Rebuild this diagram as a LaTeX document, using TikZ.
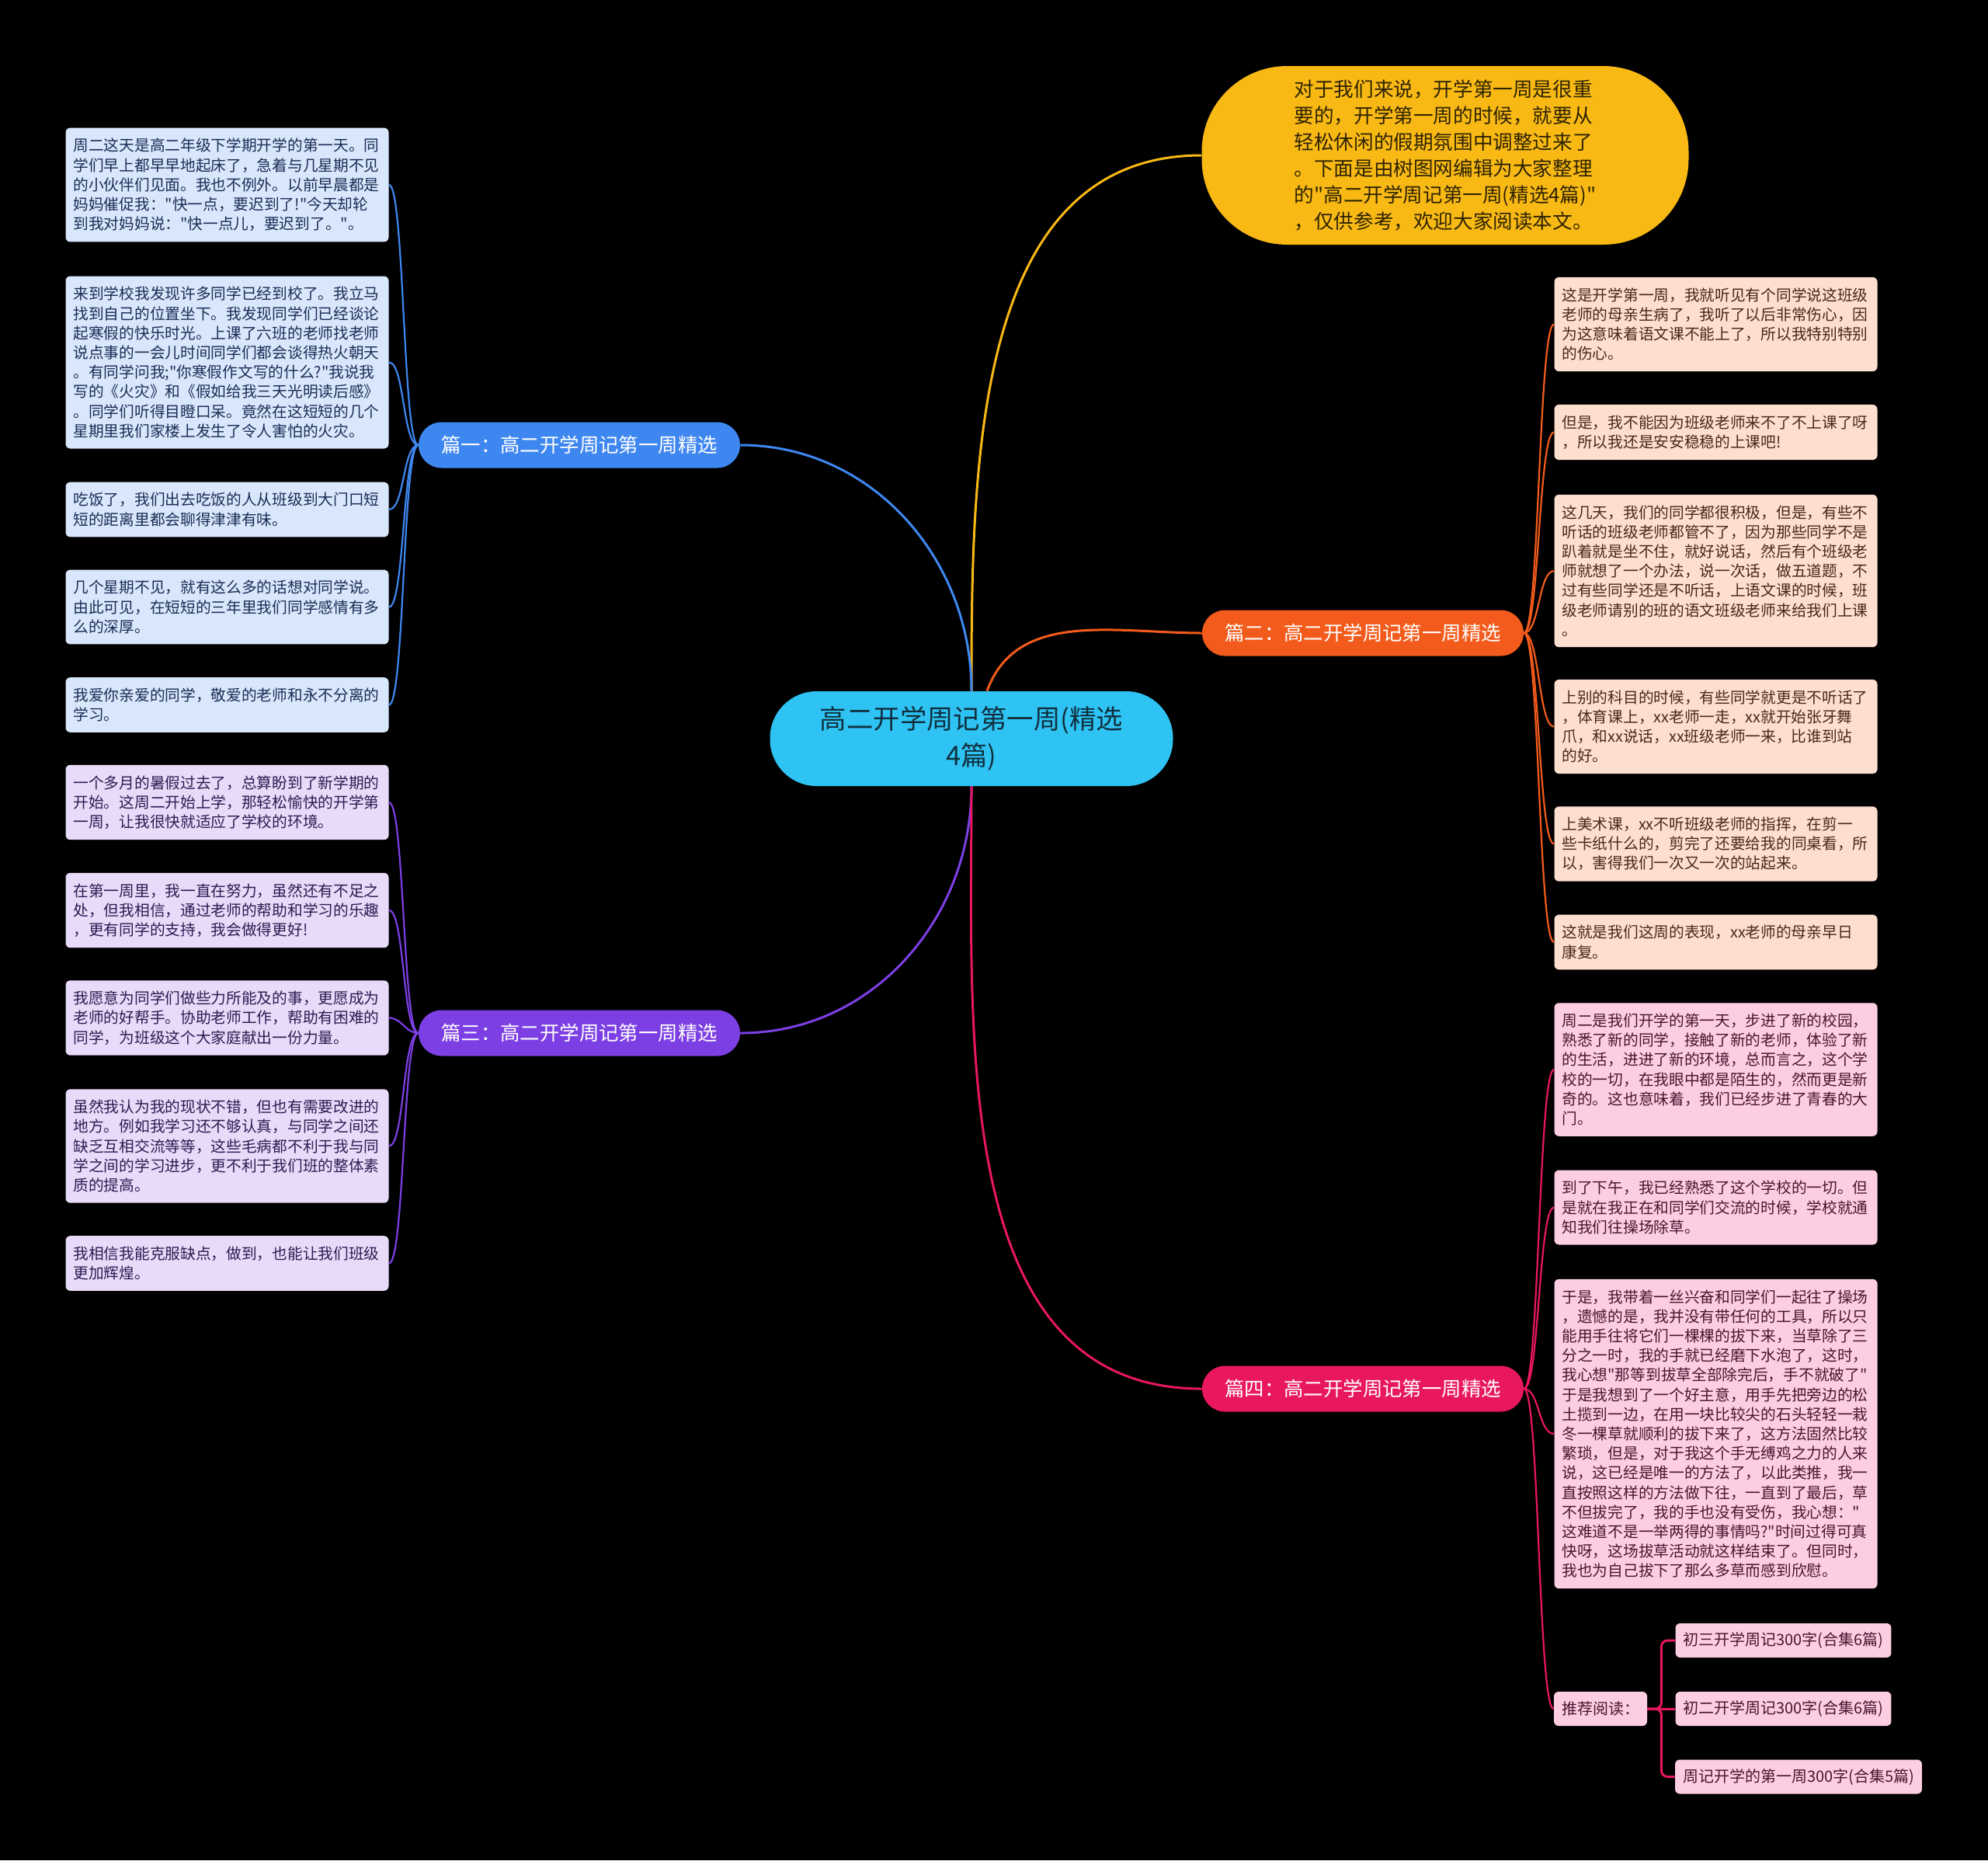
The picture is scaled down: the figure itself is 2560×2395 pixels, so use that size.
\documentclass[tikz,border=0pt]{standalone}
\usepackage{fontspec}
\setmainfont{Noto Sans CJK SC}[Ligatures=TeXOff]

\definecolor{cMain}{HTML}{2EC3F3}
\definecolor{cMainTxt}{HTML}{10303F}
\definecolor{cYellow}{HTML}{F8B915}
\definecolor{cYellowTxt}{HTML}{2E2300}
\definecolor{cBlue}{HTML}{3F87F0}
\definecolor{cPurple}{HTML}{7C3FE3}
\definecolor{cOrange}{HTML}{F25B1B}
\definecolor{cPink}{HTML}{E8175F}
\definecolor{cLeafBlue}{HTML}{D8E7FB}
\definecolor{cLeafPurple}{HTML}{E7DBF9}
\definecolor{cLeafOrange}{HTML}{FDDFCF}
\definecolor{cLeafPink}{HTML}{FDCDE1}
\definecolor{cTxtBlue}{HTML}{1C2C55}
\definecolor{cTxtPurple}{HTML}{301A52}
\definecolor{cTxtOrange}{HTML}{4A2818}
\definecolor{cTxtPink}{HTML}{4A1530}

\tikzset{
  leaf/.style={rounded corners=3pt, text width=198pt, inner xsep=5pt,
    inner ysep=6.8pt, align=left, font=\fontsize{9.85}{12.6}\selectfont},
  leafblue/.style={leaf, fill=cLeafBlue, text=cTxtBlue},
  leafpurple/.style={leaf, fill=cLeafPurple, text=cTxtPurple},
  leaforange/.style={leaf, fill=cLeafOrange, text=cTxtOrange},
  leafpink/.style={leaf, fill=cLeafPink, text=cTxtPink},
  small/.style={rounded corners=3pt, inner xsep=5pt, minimum height=22pt,
    fill=cLeafPink, text=cTxtPink, font=\fontsize{10}{12}\selectfont},
  branch/.style={rounded corners=14.75pt, minimum width=207pt,
    minimum height=29.5pt, text=white, font=\fontsize{12.7}{14}\selectfont},
  trunk/.style={line width=1.5pt},
  twig/.style={line width=1.1pt},
  bendL/.style={out=180, in=0, max distance=10pt},
  bendR/.style={out=0, in=180, max distance=10pt},
}

\begin{document}
\begin{tikzpicture}[x=0.5pt,y=-0.5pt]
  % \draw[help lines] (0,0) grid[step=100] (2560,2395);
  \fill[black] (0,0) rectangle (2560,2395);

  \node[fill=cMain, rounded corners=30pt, minimum width=259.5pt,
    minimum height=61pt, align=center, text=cMainTxt,
    font=\fontsize{17.2}{23.5}\selectfont] (main) at (1251,951)
    {高二开学周记第一周(精选\\4篇)};

  \node[fill=cYellow, rounded corners=55pt, minimum width=313.5pt,
    minimum height=115pt, align=left, text=cYellowTxt,
    font=\fontsize{12.8}{17}\selectfont] (intro) at (1861,200)
    {对于我们来说，开学第一周是很重\\
     要的，开学第一周的时候，就要从\\
     轻松休闲的假期氛围中调整过来了\\
     。下面是由树图网编辑为大家整理\\
     的"高二开学周记第一周(精选4篇)"\\
     ，仅供参考，欢迎大家阅读本文。};

  \node[branch, fill=cBlue] (p1) at (746,573) {篇一：高二开学周记第一周精选};
  \node[branch, fill=cOrange] (p2) at (1755,815) {篇二：高二开学周记第一周精选};
  \node[branch, fill=cPurple] (p3) at (746,1330) {篇三：高二开学周记第一周精选};
  \node[branch, fill=cPink] (p4) at (1755,1788) {篇四：高二开学周记第一周精选};

  % left, blue
  \node[leafblue] (a1) at (292.5,238)
    {周二这天是高二年级下学期开学的第一天。同\\
     学们早上都早早地起床了，急着与几星期不见\\
     的小伙伴们见面。我也不例外。以前早晨都是\\
     妈妈催促我："快一点，要迟到了!"今天却轮\\
     到我对妈妈说："快一点儿，要迟到了。"。};
  \node[leafblue] (a2) at (292.5,466.5)
    {来到学校我发现许多同学已经到校了。我立马\\
     找到自己的位置坐下。我发现同学们已经谈论\\
     起寒假的快乐时光。上课了六班的老师找老师\\
     说点事的一会儿时间同学们都会谈得热火朝天\\
     。有同学问我;"你寒假作文写的什么?"我说我\\
     写的《火灾》和《假如给我三天光明读后感》\\
     。同学们听得目瞪口呆。竟然在这短短的几个\\
     星期里我们家楼上发生了令人害怕的火灾。};
  \node[leafblue] (a3) at (292.5,656)
    {吃饭了，我们出去吃饭的人从班级到大门口短\\
     短的距离里都会聊得津津有味。};
  \node[leafblue] (a4) at (292.5,781.5)
    {几个星期不见，就有这么多的话想对同学说。\\
     由此可见，在短短的三年里我们同学感情有多\\
     么的深厚。};
  \node[leafblue] (a5) at (292.5,907.5)
    {我爱你亲爱的同学，敬爱的老师和永不分离的\\
     学习。};

  % left, purple
  \node[leafpurple] (c1) at (292.5,1033)
    {一个多月的暑假过去了，总算盼到了新学期的\\
     开始。这周二开始上学，那轻松愉快的开学第\\
     一周，让我很快就适应了学校的环境。};
  \node[leafpurple] (c2) at (292.5,1172)
    {在第一周里，我一直在努力，虽然还有不足之\\
     处，但我相信，通过老师的帮助和学习的乐趣\\
     ，更有同学的支持，我会做得更好!};
  \node[leafpurple] (c3) at (292.5,1310.5)
    {我愿意为同学们做些力所能及的事，更愿成为\\
     老师的好帮手。协助老师工作，帮助有困难的\\
     同学，为班级这个大家庭献出一份力量。};
  \node[leafpurple] (c4) at (292.5,1475.5)
    {虽然我认为我的现状不错，但也有需要改进的\\
     地方。例如我学习还不够认真，与同学之间还\\
     缺乏互相交流等等，这些毛病都不利于我与同\\
     学之间的学习进步，更不利于我们班的整体素\\
     质的提高。};
  \node[leafpurple] (c5) at (292.5,1626.5)
    {我相信我能克服缺点，做到，也能让我们班级\\
     更加辉煌。};

  % right, orange
  \node[leaforange] (b1) at (2209.5,417.5)
    {这是开学第一周，我就听见有个同学说这班级\\
     老师的母亲生病了，我听了以后非常伤心，因\\
     为这意味着语文课不能上了，所以我特别特别\\
     的伤心。};
  \node[leaforange] (b2) at (2209.5,556.5)
    {但是，我不能因为班级老师来不了不上课了呀\\
     ，所以我还是安安稳稳的上课吧!};
  \node[leaforange] (b3) at (2209.5,735)
    {这几天，我们的同学都很积极，但是，有些不\\
     听话的班级老师都管不了，因为那些同学不是\\
     趴着就是坐不住，就好说话，然后有个班级老\\
     师就想了一个办法，说一次话，做五道题，不\\
     过有些同学还是不听话，上语文课的时候，班\\
     级老师请别的班的语文班级老师来给我们上课\\
     。};
  \node[leaforange] (b4) at (2209.5,935.5)
    {上别的科目的时候，有些同学就更是不听话了\\
     ，体育课上，xx老师一走，xx就开始张牙舞\\
     爪，和xx说话，xx班级老师一来，比谁到站\\
     的好。};
  \node[leaforange] (b5) at (2209.5,1086.5)
    {上美术课，xx不听班级老师的指挥，在剪一\\
     些卡纸什么的，剪完了还要给我的同桌看，所\\
     以，害得我们一次又一次的站起来。};
  \node[leaforange] (b6) at (2209.5,1213)
    {这就是我们这周的表现，xx老师的母亲早日\\
     康复。};

  % right, pink
  \node[leafpink] (d1) at (2209.5,1377)
    {周二是我们开学的第一天，步进了新的校园，\\
     熟悉了新的同学，接触了新的老师，体验了新\\
     的生活，进进了新的环境，总而言之，这个学\\
     校的一切，在我眼中都是陌生的，然而更是新\\
     奇的。这也意味着，我们已经步进了青春的大\\
     门。};
  \node[leafpink] (d2) at (2209.5,1554.5)
    {到了下午，我已经熟悉了这个学校的一切。但\\
     是就在我正在和同学们交流的时候，学校就通\\
     知我们往操场除草。};
  \node[leafpink] (d3) at (2209.5,1846)
    {于是，我带着一丝兴奋和同学们一起往了操场\\
     ，遗憾的是，我并没有带任何的工具，所以只\\
     能用手往将它们一棵棵的拔下来，当草除了三\\
     分之一时，我的手就已经磨下水泡了，这时，\\
     我心想"那等到拔草全部除完后，手不就破了"\\
     于是我想到了一个好主意，用手先把旁边的松\\
     土揽到一边，在用一块比较尖的石头轻轻一栽\\
     冬一棵草就顺利的拔下来了，这方法固然比较\\
     繁琐，但是，对于我这个手无缚鸡之力的人来\\
     说，这已经是唯一的方法了，以此类推，我一\\
     直按照这样的方法做下往，一直到了最后，草\\
     不但拔完了，我的手也没有受伤，我心想："\\
     这难道不是一举两得的事情吗?"时间过得可真\\
     快呀，这场拔草活动就这样结束了。但同时，\\
     我也为自己拔下了那么多草而感到欣慰。};
  \node[small, minimum width=59pt] (rec) at (2061,2200) {推荐阅读：};
  \node[small, minimum width=138.5pt] (s1) at (2296.5,2112) {初三开学周记300字(合集6篇)};
  \node[small, minimum width=138.5pt] (s2) at (2296.5,2200) {初二开学周记300字(合集6篇)};
  \node[small, minimum width=158pt] (s3) at (2316,2287.5) {周记开学的第一周300字(合集5篇)};

  % main branches
  \draw[trunk, cYellow] (main.north) to[out=90,in=180] (intro.west);
  \draw[trunk, cBlue] (main.north) to[out=90,in=0] (p1.east);
  \draw[trunk, cOrange] ([xshift=10pt]main.north) to[out=70,in=180] (p2.west);
  \draw[trunk, cPurple] (main.south) to[out=-90,in=0] (p3.east);
  \draw[trunk, cPink] (main.south) to[out=-90,in=180] (p4.west);

  \draw[twig, cBlue] (p1.west) to[bendL] (a1.east);
  \draw[twig, cBlue] (p1.west) to[bendL] (a2.east);
  \draw[twig, cBlue] (p1.west) to[bendL] (a3.east);
  \draw[twig, cBlue] (p1.west) to[bendL] (a4.east);
  \draw[twig, cBlue] (p1.west) to[bendL] (a5.east);

  \draw[twig, cPurple] (p3.west) to[bendL] (c1.east);
  \draw[twig, cPurple] (p3.west) to[bendL] (c2.east);
  \draw[twig, cPurple] (p3.west) to[bendL] (c3.east);
  \draw[twig, cPurple] (p3.west) to[bendL] (c4.east);
  \draw[twig, cPurple] (p3.west) to[bendL] (c5.east);

  \draw[twig, cOrange] (p2.east) to[bendR] (b1.west);
  \draw[twig, cOrange] (p2.east) to[bendR] (b2.west);
  \draw[twig, cOrange] (p2.east) to[bendR] (b3.west);
  \draw[twig, cOrange] (p2.east) to[bendR] (b4.west);
  \draw[twig, cOrange] (p2.east) to[bendR] (b5.west);
  \draw[twig, cOrange] (p2.east) to[bendR] (b6.west);

  \draw[twig, cPink] (p4.east) to[bendR] (d1.west);
  \draw[twig, cPink] (p4.east) to[bendR] (d2.west);
  \draw[twig, cPink] (p4.east) to[bendR] (d3.west);
  \draw[twig, cPink] (p4.east) to[bendR] (rec.west);

  \draw[trunk, cPink, rounded corners=4pt] (rec.east) -- ++(9pt,0) |- (s1.west);
  \draw[trunk, cPink] (rec.east) -- (s2.west);
  \draw[trunk, cPink, rounded corners=4pt] (rec.east) -- ++(9pt,0) |- (s3.west);

\end{tikzpicture}
\end{document}
